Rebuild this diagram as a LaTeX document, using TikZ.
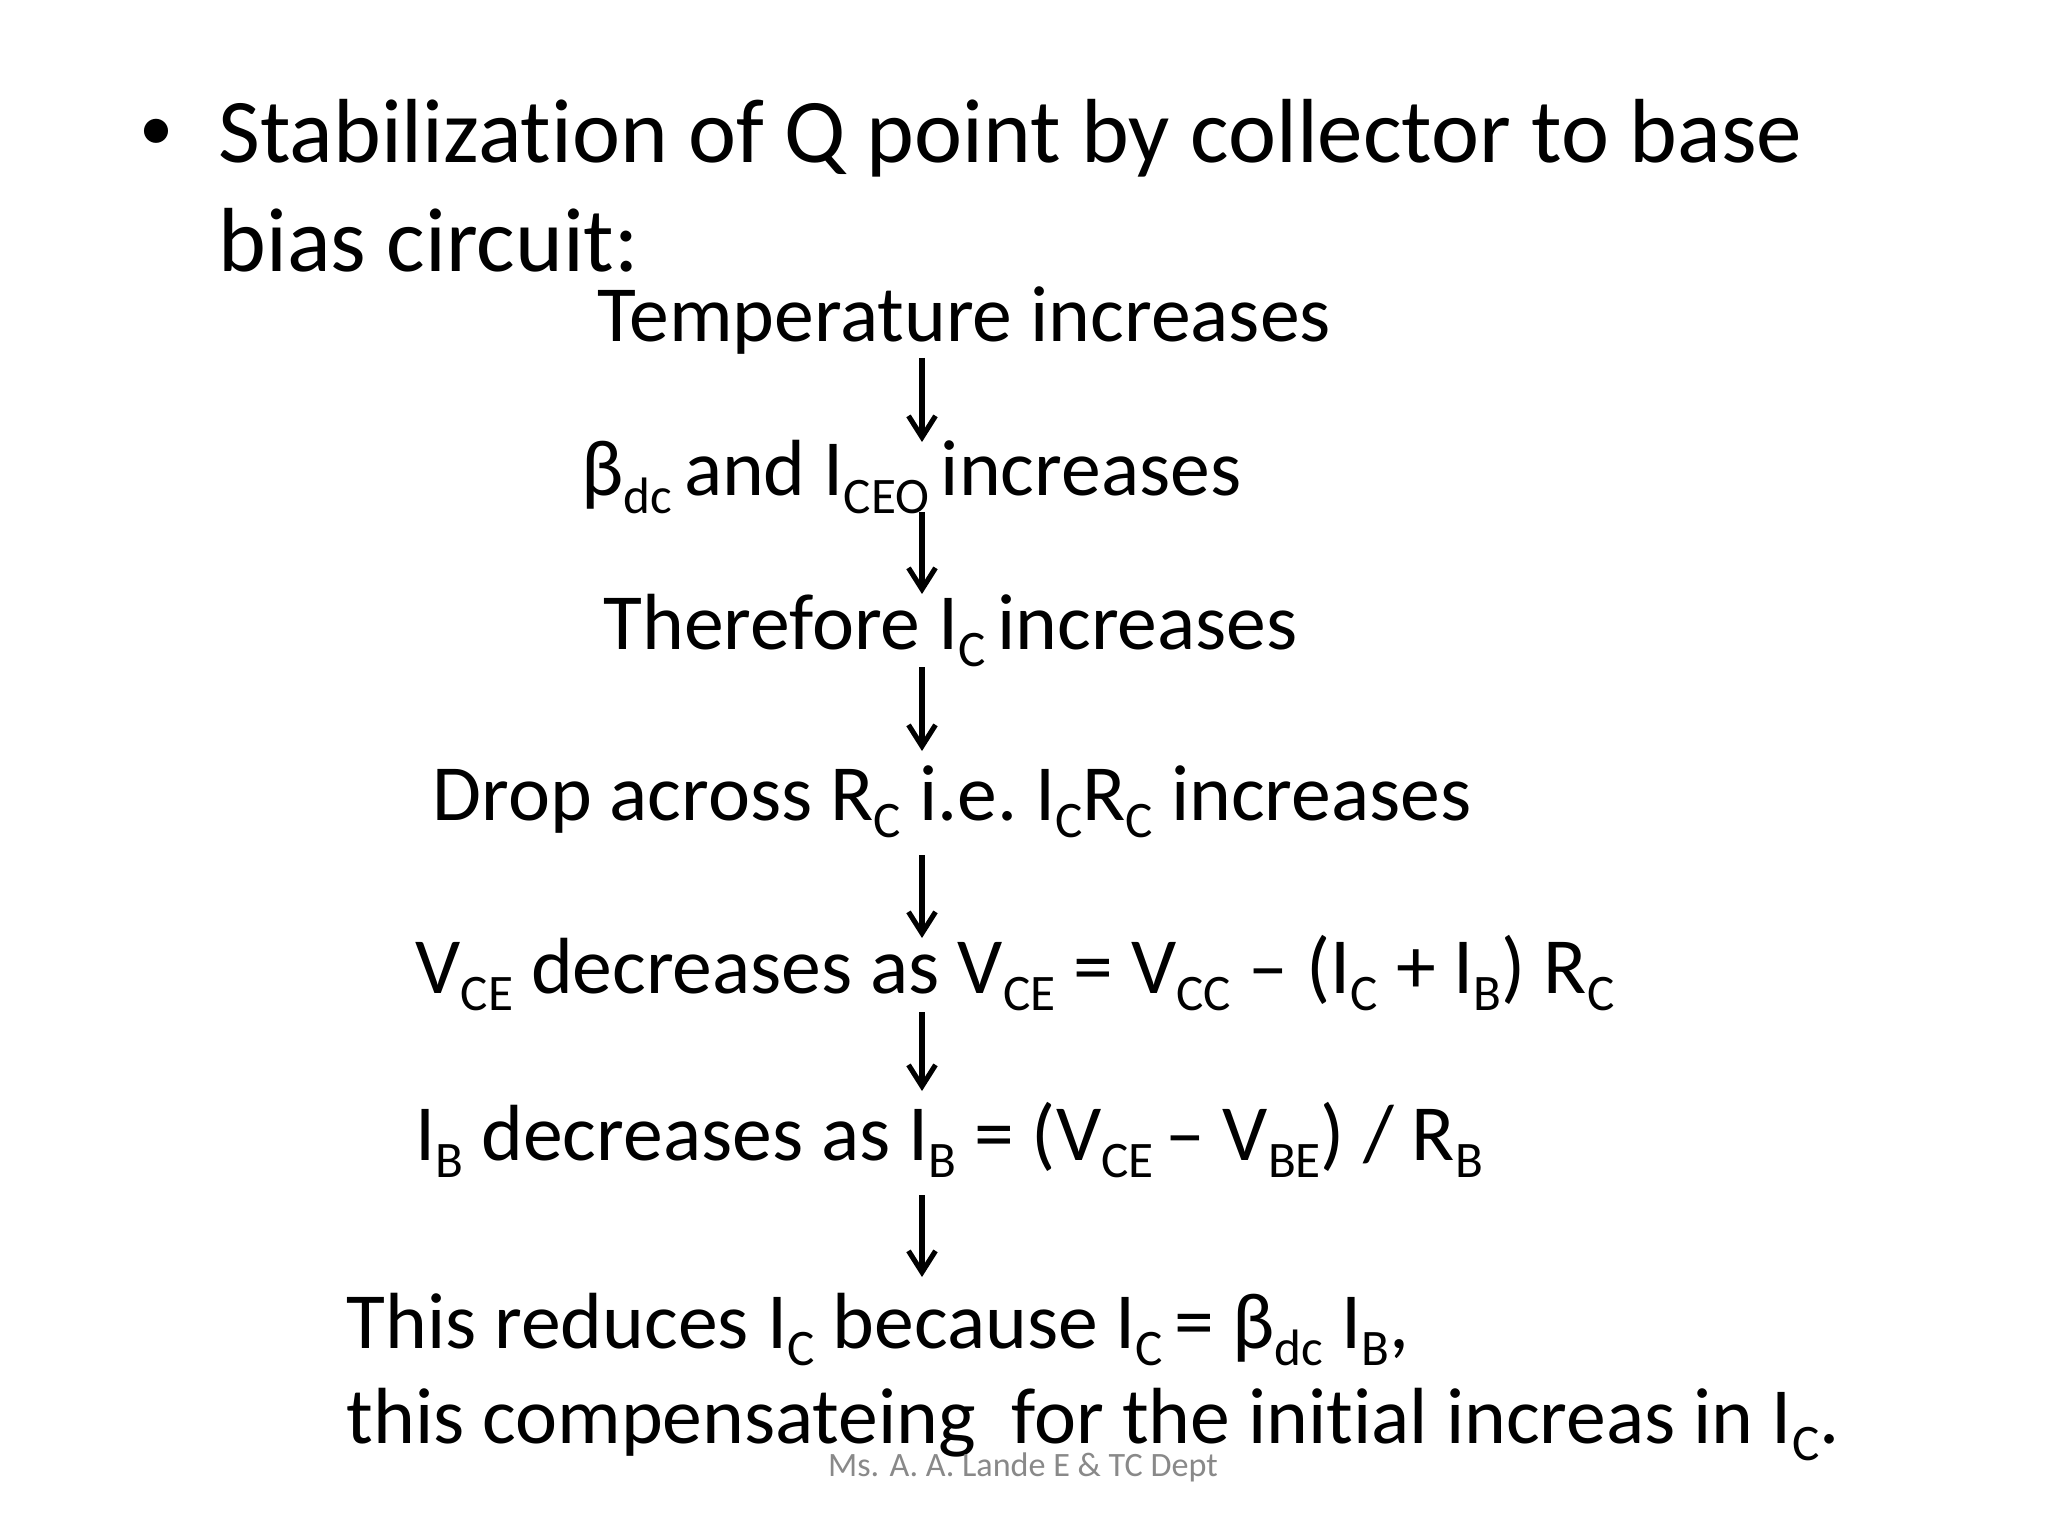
\documentclass[tikz,border=0pt]{standalone}
\usepackage{fontspec}
\setmainfont{Carlito}[Ligatures=NoCommon]
\usetikzlibrary{calc,arrows.meta}

\definecolor{footgray}{RGB}{137,137,137}
\newcommand\sub[1]{\raisebox{-0.22em}{\fontsize{18}{20}\selectfont #1}}
\newcommand\ssp{{\fontsize{18}{20}\selectfont\ }}

\begin{document}
\begin{tikzpicture}[x=0.3515625pt,y=-0.3515625pt,
    headtext/.style={anchor=base west, inner sep=0pt, font=\fontsize{32}{38}\selectfont},
    flowtext/.style={anchor=base west, inner sep=0pt, font=\fontsize{28}{34}\selectfont},
    flow/.style={-{Straight Barb[length=7.5pt,width=9.5pt]}, line width=1.8pt},
  ]

      \useasboundingbox[fill=white] (0,0) rectangle (2048,1536);

      % Title
      \node[anchor=base, inner sep=0pt, font=\fontsize{24}{28}\selectfont] (bul) at (156,151) {\textbullet};
      \node[headtext] (tl1) at (218,163) {Stabilization of Q point by collector to base};
      \node[headtext] (tl2) at (218,272) {bias circuit:};

      % Chain of effects
      \node[flowtext] (t1) at (597,342)  {Temperature increases};
      \node[flowtext] (t2) at (581,496)  {β\sub{dc}\ssp and I\sub{CEO}\ssp increases};
      \node[flowtext] (t3) at (603,649)  {Therefore I\sub{C}\ssp increases};
      \node[flowtext] (t4) at (432,820)  {Drop across R\sub{C} i.e.\ I\sub{C}R\sub{C} increases};
      \node[flowtext] (t5) at (415,993)  {V\sub{CE} decreases as V\sub{CE} = V\sub{CC} – (I\sub{C} + I\sub{B}) R\sub{C}};
      \node[flowtext] (t6) at (415,1160) {I\sub{B} decreases as I\sub{B} = (V\sub{CE}\ssp – V\sub{BE}) / R\sub{B}};
      \node[flowtext] (t7) at (346,1348) {This reduces I\sub{C} because I\sub{C}\ssp = β\sub{dc} I\sub{B},};
      \node[flowtext] (t8) at (346,1443) {this compensateing~ for the initial increas in I\sub{C}.};

      % Footer
      \node[anchor=base, inner sep=0pt, font=\fontsize{12}{14}\selectfont, text=footgray]
        (foot) at (1023,1476) {Ms. A. A. Lande E \& TC Dept};

      % arrows between the lines
      \coordinate (ax) at (922,0);
      \foreach \a/\b/\da/\db in {t1/t2/16/54, t2/t3/16/55, t3/t4/18/69,
                                 t4/t5/35/55, t5/t6/19/69, t6/t7/35/71}{
        \draw[flow] ($(\a.base -| ax)+(0,\da)$) -- ($(\b.base -| ax)+(0,-\db)$);
      }

\end{tikzpicture}
\end{document}
